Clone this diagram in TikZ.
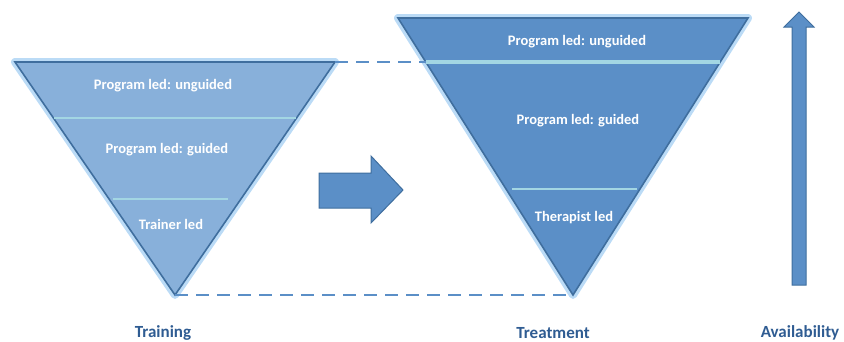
\documentclass[tikz,border=0pt]{standalone}
\usepackage{fontspec}
\setmainfont{Carlito}
\definecolor{lightfill}{HTML}{88B0DA}
\definecolor{darkfill}{HTML}{5B8FC7}
\definecolor{edge}{HTML}{3F6E9E}
\definecolor{glow}{HTML}{BBDBF6}
\definecolor{band}{HTML}{A3D6E3}
\definecolor{labelblue}{HTML}{2F5C92}
\tikzset{
  halo/.style={draw=glow,line width=8pt,line join=round},
  tri/.style={draw=edge,line width=1.6pt,line join=miter},
  layer/.style={text=white,font=\bfseries\fontsize{14.5}{17}\selectfont},
  caption/.style={text=labelblue,font=\bfseries\fontsize{17}{20}\selectfont},
  gap/.style={draw=darkfill,line width=2.5pt,dash pattern=on 13pt off 8pt},
  divider/.style={draw=band,line width=2.5pt},
  bigarrow/.style={fill=darkfill,draw=edge,line width=1pt,line join=miter}
}
\begin{document}
\begin{tikzpicture}[x=1pt,y=-1pt]
\useasboundingbox (0,0) rectangle (844,341);
% training funnel
\coordinate (trL) at (15,62);
\coordinate (trR) at (335,62);
\coordinate (trB) at (175,295);
\draw[halo] (trL) -- (trR) -- (trB) -- cycle;
\draw[tri,fill=lightfill] (trL) -- (trR) -- (trB) -- cycle;
\draw[divider] (54,118) -- (296,118);
\draw[divider] (113,199) -- (228,199);
\node[layer] (trUnguided) at (163,86) {Program led: unguided};
\node[layer] (trGuided) at (167,150) {Program led: guided};
\node[layer] (trTrainer) at (171,224) {Trainer led};
% treatment funnel
\coordinate (tmL) at (398,18);
\coordinate (tmR) at (748,18);
\coordinate (tmB) at (573,295);
\draw[halo] (tmL) -- (tmR) -- (tmB) -- cycle;
\draw[tri,fill=darkfill] (tmL) -- (tmR) -- (tmB) -- cycle;
\coordinate (tmBandL) at (426,62);
\draw[divider,line width=4pt] (tmBandL) -- (720,62);
\draw[divider] (512,189) -- (637,189);
\node[layer] (tmUnguided) at (577,42) {Program led: unguided};
\node[layer] (tmGuided) at (578,121) {Program led: guided};
\node[layer] (tmTherapist) at (574,218) {Therapist led};
% dashed links
\draw[gap] (trR) -- (tmBandL);
\draw[gap] (trB) -- (tmB);
% arrows
\draw[bigarrow] (319,173) -- (371,173) -- (371,156) -- (403,190) -- (371,223)
  -- (371,208) -- (319,208) -- cycle;
\draw[bigarrow] (792,285) -- (792,27) -- (784,27) -- (799,12) -- (814,27)
  -- (806,27) -- (806,285) -- cycle;
% captions
\node[caption] (training) at (163,333) {Training};
\node[caption] (treatment) at (553,333) {Treatment};
\node[caption] (availability) at (800,333) {Availability};
\end{tikzpicture}
\end{document}
